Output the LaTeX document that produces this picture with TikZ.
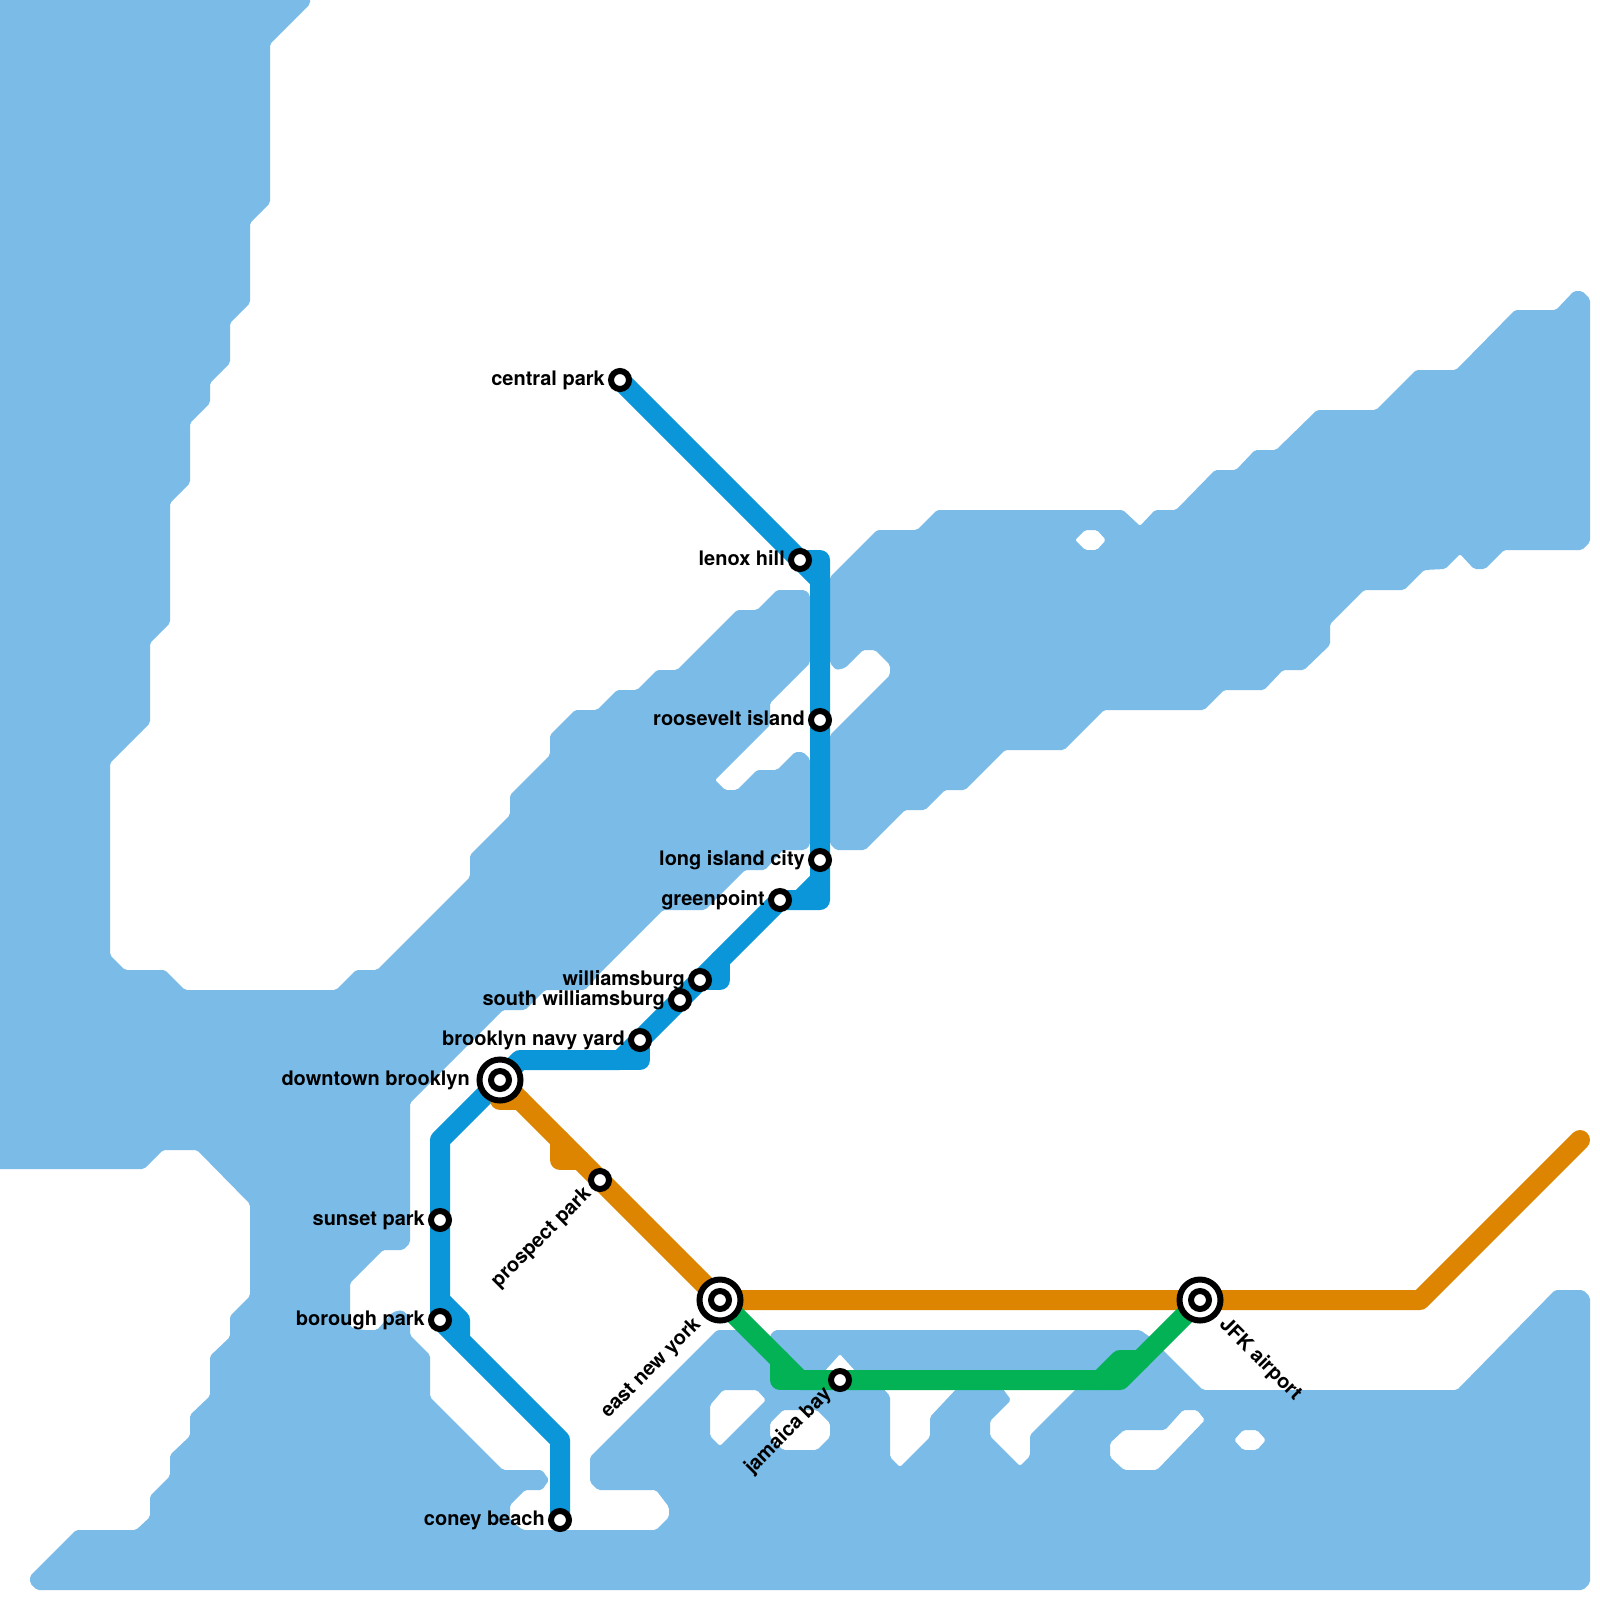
\documentclass[tikz,border=0pt]{standalone}
\usepackage{fontspec}
\usetikzlibrary{backgrounds}
\setmainfont{TeX Gyre Heros}
\definecolor{watercol}{HTML}{7ABBE8}
\definecolor{blueline}{HTML}{0A96D8}
\definecolor{orangeline}{HTML}{DD8500}
\definecolor{greenline}{HTML}{02B254}
\tikzset{
  water/.style={fill=watercol,draw=none,rounded corners=2pt,even odd rule},
  metro/.style={line width=20pt,line join=round,line cap=round},
  blueroute/.style={metro,draw=blueline},
  orangeroute/.style={metro,draw=orangeline},
  greenroute/.style={metro,draw=greenline},
  stn/.style={circle,draw=black,fill=white,line width=6pt,inner sep=0pt,minimum size=18pt},
  hub/.style={circle,draw=black,fill=white,line width=6pt,inner sep=0pt,minimum size=41pt},
  lbl/.style={font=\fontsize{20}{24}\selectfont\bfseries,text=black,inner sep=0pt},
  lblL/.style={lbl,anchor=base east},
  lblR/.style={lbl,anchor=base west}
}
\begin{document}
\begin{tikzpicture}[x=1pt,y=-1pt]
\useasboundingbox (0,0) rectangle (1600,1600);
% stations
\node[stn] (centralpark) at (620,380) {};
\node[stn] (lenox) at (800,560) {};
\node[stn] (roosevelt) at (820,720) {};
\node[stn] (lic) at (820,860) {};
\node[stn] (greenpoint) at (780,900) {};
\node[stn] (wburg) at (700,980) {};
\node[stn] (swburg) at (680,1000) {};
\node[stn] (navyyard) at (640,1040) {};
\node[stn] (sunset) at (440,1220) {};
\node[stn] (borough) at (440,1320) {};
\node[stn] (coney) at (560,1520) {};
\node[stn] (prospect) at (600,1180) {};
\node[stn] (jamaica) at (840,1380) {};
\node[hub] (downtown) at (500,1080) {};
\node[stn] (downtownI) at (500,1080) {};
\node[hub] (eny) at (720,1300) {};
\node[stn] (enyI) at (720,1300) {};
\node[hub] (jfk) at (1200,1300) {};
\node[stn] (jfkI) at (1200,1300) {};
% bends
\coordinate (bLenox) at (820,560);
\coordinate (bLenoxB) at (820,580);
\coordinate (bLicA) at (820,880);
\coordinate (bLicB) at (820,900);
\coordinate (bLicC) at (800,900);
\coordinate (bWbA) at (720,960);
\coordinate (bWbB) at (720,980);
\coordinate (bNyA) at (640,1060);
\coordinate (bNyB) at (620,1060);
\coordinate (bDt) at (520,1060);
\coordinate (bSw) at (440,1140);
\coordinate (bBoA) at (440,1300);
\coordinate (bBoB) at (460,1320);
\coordinate (bBoC) at (460,1340);
\coordinate (bCo) at (560,1440);
\coordinate (oDtA) at (500,1100);
\coordinate (oDtB) at (520,1100);
\coordinate (oPpA) at (560,1140);
\coordinate (oPpB) at (560,1160);
\coordinate (oPpC) at (580,1160);
\coordinate (oBend) at (1420,1300);
\coordinate (oEnd) at (1580,1140);
\coordinate (gA) at (780,1360);
\coordinate (gB) at (780,1380);
\coordinate (gC) at (800,1380);
\coordinate (gD) at (1120,1380);
\coordinate (gE) at (1100,1380);
\coordinate (gF) at (1120,1360);
\coordinate (gG) at (1140,1360);
\begin{pgfonlayer}{background}
% water, west and south
\path[water] (-10,-10) -- (310,-10) -- (310,4) -- (270,44) -- (270,203) -- (250,223) -- (250,303) -- (230,323) -- (230,363) -- (210,383) -- (210,403) -- (190,423) -- (190,483) -- (170,503) -- (170,623) -- (150,643) -- (150,723) -- (110,763) -- (110,955) -- (125,970) -- (165,970) -- (185,990) -- (336,990) -- (356,970) -- (377,970) -- (470,877) -- (470,855) -- (510,815) -- (510,795) -- (550,755) -- (550,735) -- (575,710) -- (597,710) -- (617,690) -- (637,690) -- (657,670) -- (677,670) -- (737,610) -- (757,610) -- (777,590) -- (805,590) -- (810,595) -- (810,663) -- (770,703) -- (770,725) -- (715,780) -- (725,790) -- (737,790) -- (757,770) -- (777,770) -- (795,752) -- (803,752) -- (810,759) -- (810,845) -- (805,850) -- (783,850) -- (765,870) -- (745,870) -- (705,910) -- (663,910) -- (603,970) -- (585,990) -- (545,990) -- (525,1010) -- (503,1010) -- (410,1103) -- (410,1243) -- (403,1250) -- (383,1250) -- (350,1283) -- (350,1327) -- (363,1330) -- (377,1330) -- (393,1312) -- (402,1310) -- (410,1317) -- (410,1335) -- (430,1355) -- (430,1397) -- (503,1470) -- (542,1470) -- (549,1480) -- (542,1490) -- (525,1490) -- (510,1505) -- (510,1520) -- (523,1530) -- (656,1530) -- (669,1517) -- (669,1507) -- (656,1490) -- (598,1490) -- (590,1482) -- (590,1457) -- (717,1330) -- (740,1330) -- (770,1350) -- (770,1335) -- (775,1330) -- (1140,1330) -- (1150,1337) -- (1203,1390) -- (1457,1390) -- (1555,1290) -- (1583,1290) -- (1590,1297) -- (1590,1583) -- (1583,1590) -- (37,1590) -- (30,1583) -- (30,1576) -- (76,1530) -- (136,1530) -- (150,1517) -- (150,1496) -- (170,1476) -- (170,1455) -- (190,1436) -- (190,1415) -- (210,1396) -- (210,1356) -- (230,1337) -- (230,1316) -- (250,1296) -- (250,1204) -- (197,1150) -- (163,1150) -- (144,1169) -- (-10,1169) -- cycle
 (723,1390) -- (757,1390) -- (766,1400) -- (720,1446) -- (710,1436) -- (710,1405) -- cycle
 (783,1410) -- (817,1410) -- (830,1423) -- (830,1437) -- (817,1450) -- (783,1450) -- (770,1437) -- (770,1423) -- cycle
 (822,1374) -- (840,1354) -- (858,1374) -- cycle
 (880,1385) -- (890,1396) -- (890,1457) -- (900,1467) -- (930,1437) -- (930,1417) -- (960,1385) -- cycle
 (1000,1385) -- (1011,1400) -- (990,1421) -- (990,1436) -- (1020,1466) -- (1030,1456) -- (1030,1435) -- (1080,1385) -- cycle
 (1124,1430) -- (1165,1430) -- (1183,1410) -- (1197,1410) -- (1205,1420) -- (1157,1470) -- (1124,1470) -- (1110,1457) -- (1110,1443) -- cycle
 (1243,1430) -- (1257,1430) -- (1266,1440) -- (1257,1450) -- (1243,1450) -- (1234,1440) -- cycle;
% water, east
\path[water] (830,577) -- (877,530) -- (917,530) -- (937,510) -- (1123,510) -- (1140,526) -- (1155,510) -- (1176,510) -- (1215,470) -- (1236,470) -- (1255,450) -- (1276,450) -- (1317,410) -- (1376,410) -- (1416,370) -- (1456,370) -- (1515,310) -- (1556,310) -- (1574,291) -- (1582,291) -- (1590,299) -- (1590,542) -- (1582,550) -- (1504,550) -- (1485,569) -- (1474,569) -- (1460,554) -- (1445,569) -- (1424,570) -- (1404,590) -- (1364,590) -- (1330,624) -- (1330,645) -- (1304,670) -- (1283,670) -- (1264,690) -- (1224,690) -- (1204,710) -- (1104,710) -- (1064,750) -- (1005,750) -- (965,790) -- (945,790) -- (925,810) -- (905,810) -- (865,850) -- (836,850) -- (830,844) -- (830,735) -- (890,675) -- (890,665) -- (875,650) -- (863,650) -- (845,668) -- (836,670) -- (830,663) -- cycle
 (1075,540) -- (1085,530) -- (1097,530) -- (1106,540) -- (1097,550) -- (1085,550) -- cycle;
% blue
\draw[blueroute] (centralpark.center) -- (lenox.center) -- (bLenox) -- (roosevelt.center) -- (lic.center) -- (bLicB) -- (greenpoint.center) -- (wburg.center) -- (swburg.center) -- (navyyard.center) -- (bNyB) -- (bDt) -- (downtown.center) -- (bSw) -- (sunset.center) -- (borough.center) -- (bCo) -- (coney.center);
\draw[blueroute] (lenox.center) -- (bLenoxB);
\draw[blueroute] (bLicA) -- (bLicC);
\draw[blueroute] (bWbA) -- (bWbB) -- (wburg.center);
\draw[blueroute] (navyyard.center) -- (bNyA) -- (bNyB);
\draw[blueroute] (bBoA) -- (bBoB) -- (bBoC);
% orange
\draw[orangeroute] (downtown.center) -- (prospect.center) -- (eny.center) -- (jfk.center) -- (oBend) -- (oEnd);
\draw[orangeroute] (downtown.center) -- (oDtA) -- (oDtB);
\draw[orangeroute] (oPpA) -- (oPpB) -- (oPpC);
% green
\draw[greenroute] (eny.center) -- (gA) -- (gC) -- (jamaica.center) -- (gD) -- (jfk.center);
\draw[greenroute] (gA) -- (gB) -- (gC);
\draw[greenroute] (gE) -- (gF) -- (gG);
\end{pgfonlayer}
% labels
\node[lblL] (tCentral) at (605,385) {central park};
\node[lblL] (tLenox) at (785,565) {lenox hill};
\node[lblL] (tRoos) at (805,725) {roosevelt island};
\node[lblL] (tLic) at (805,865) {long island city};
\node[lblL] (tGreen) at (765,905) {greenpoint};
\node[lblL] (tWb) at (685,985) {williamsburg};
\node[lblL] (tSwb) at (665,1005) {south williamsburg};
\node[lblL] (tNavy) at (625,1045) {brooklyn navy yard};
\node[lblL] (tDown) at (470,1085) {downtown brooklyn};
\node[lblL] (tSunset) at (425,1225) {sunset park};
\node[lblL] (tBorough) at (425,1325) {borough park};
\node[lblL] (tConey) at (545,1525) {coney beach};
\node[lblL,rotate=45] (tProspect) at (592.2,1194.8) {prospect park};
\node[lblL,rotate=45] (tEny) at (701.6,1325.4) {east new york};
\node[lblL,rotate=45] (tJam) at (832.2,1394.8) {jamaica bay};
\node[lblR,rotate=-45] (tJfk) at (1218.4,1325.4) {JFK airport};
\end{tikzpicture}
\end{document}
